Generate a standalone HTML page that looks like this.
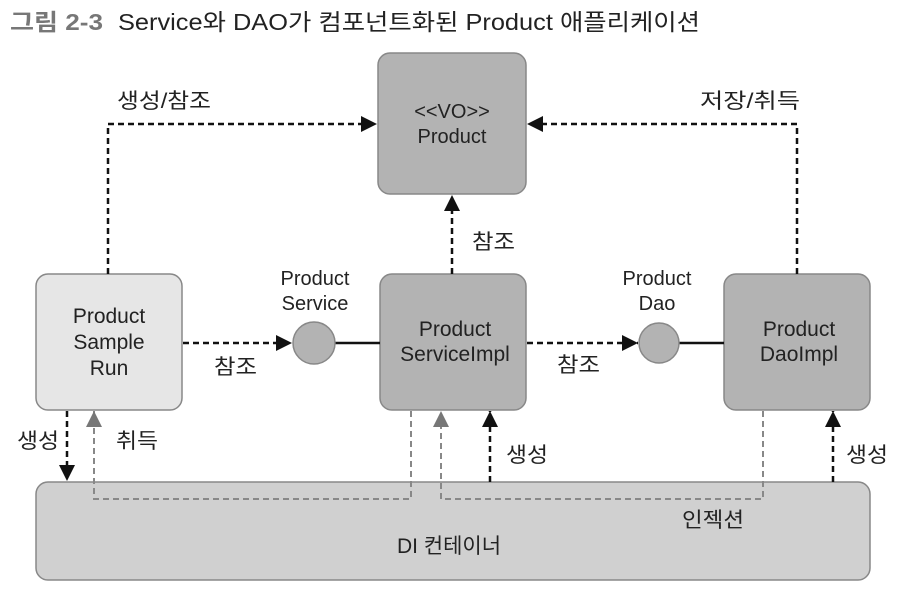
<!DOCTYPE html>
<html><head><meta charset="utf-8"><style>
body{margin:0;background:#fff;width:912px;height:602px;overflow:hidden}
svg text{font-family:"Liberation Sans","Noto Sans CJK KR",sans-serif;fill:#222}
</style></head><body>
<svg width="912" height="602" viewBox="0 0 912 602" xmlns="http://www.w3.org/2000/svg">
<defs>
<marker id="ag" markerWidth="18" markerHeight="16" refX="16" refY="8" orient="auto" markerUnits="userSpaceOnUse"><path d="M0,0 L16,8 L0,16 z" fill="#777"/></marker>
<marker id="ak" markerWidth="18" markerHeight="16" refX="16" refY="8" orient="auto" markerUnits="userSpaceOnUse"><path d="M0,0 L16,8 L0,16 z" fill="#111"/></marker>
</defs>
<text x="10" y="30" font-size="23" font-weight="bold" textLength="93" lengthAdjust="spacingAndGlyphs" style="fill:#777">그림 2-3</text>
<text x="118" y="30" font-size="23" textLength="582" lengthAdjust="spacingAndGlyphs">Service와 DAO가 컴포넌트화된 Product 애플리케이션</text>

<rect x="378" y="53" width="148" height="141" rx="12" fill="#b3b3b3" stroke="#888" stroke-width="1.5"/>
<text x="452" y="118" font-size="20" text-anchor="middle">&lt;&lt;VO&gt;&gt;</text>
<text x="452" y="143" font-size="20" text-anchor="middle">Product</text>

<rect x="36" y="482" width="834" height="98" rx="12" fill="#d0d0d0" stroke="#888" stroke-width="1.5"/>
<text x="449" y="553" font-size="21" text-anchor="middle">DI 컨테이너</text>

<rect x="36" y="274" width="146" height="136" rx="12" fill="#e6e6e6" stroke="#888" stroke-width="1.5"/>
<text x="109" y="323" font-size="21" text-anchor="middle">Product</text>
<text x="109" y="349" font-size="21" text-anchor="middle">Sample</text>
<text x="109" y="375" font-size="21" text-anchor="middle">Run</text>

<rect x="380" y="274" width="146" height="136" rx="12" fill="#b3b3b3" stroke="#888" stroke-width="1.5"/>
<text x="455" y="336" font-size="21" text-anchor="middle">Product</text>
<text x="455" y="361" font-size="21" text-anchor="middle">ServiceImpl</text>

<rect x="724" y="274" width="146" height="136" rx="12" fill="#b3b3b3" stroke="#888" stroke-width="1.5"/>
<text x="799" y="336" font-size="21" text-anchor="middle">Product</text>
<text x="799" y="361" font-size="21" text-anchor="middle">DaoImpl</text>

<line x1="335" y1="343" x2="380" y2="343" stroke="#111" stroke-width="2.5"/>
<circle cx="314" cy="343" r="21" fill="#b3b3b3" stroke="#888" stroke-width="1.5"/>
<text x="315" y="285" font-size="20" text-anchor="middle">Product</text>
<text x="315" y="310" font-size="20" text-anchor="middle">Service</text>

<line x1="679" y1="343" x2="724" y2="343" stroke="#111" stroke-width="2.5"/>
<circle cx="659" cy="343" r="20" fill="#b3b3b3" stroke="#888" stroke-width="1.5"/>
<text x="657" y="285" font-size="20" text-anchor="middle">Product</text>
<text x="657" y="310" font-size="20" text-anchor="middle">Dao</text>

<g fill="none" stroke="#111" stroke-width="2.5" stroke-dasharray="6,4">
<line x1="183" y1="343" x2="292" y2="343" marker-end="url(#ak)"/>
<line x1="527" y1="343" x2="638" y2="343" marker-end="url(#ak)"/>
<polyline points="108,274 108,124 377,124" marker-end="url(#ak)"/>
<polyline points="797,274 797,124 527,124" marker-end="url(#ak)"/>
<line x1="452" y1="274" x2="452" y2="195" marker-end="url(#ak)"/>
<line x1="67" y1="411" x2="67" y2="481" marker-end="url(#ak)"/>
<line x1="490" y1="482" x2="490" y2="411" marker-end="url(#ak)"/>
<line x1="833" y1="482" x2="833" y2="411" marker-end="url(#ak)"/>
</g>
<g fill="none" stroke="#888" stroke-width="2" stroke-dasharray="6,4">
<polyline points="411,411 411,499 94,499 94,411" marker-end="url(#ag)"/>
<polyline points="763,411 763,499 441,499 441,411" marker-end="url(#ag)"/>
</g>

<g font-size="21">
<text x="117" y="108" textLength="94" lengthAdjust="spacingAndGlyphs">생성/참조</text>
<text x="700" y="108" textLength="100" lengthAdjust="spacingAndGlyphs">저장/취득</text>
<text x="472" y="249" textLength="43" lengthAdjust="spacingAndGlyphs">참조</text>
<text x="214" y="374" textLength="43" lengthAdjust="spacingAndGlyphs">참조</text>
<text x="557" y="372" textLength="43" lengthAdjust="spacingAndGlyphs">참조</text>
<text x="17" y="448" textLength="42" lengthAdjust="spacingAndGlyphs">생성</text>
<text x="116" y="448" textLength="42" lengthAdjust="spacingAndGlyphs">취득</text>
<text x="506" y="462" textLength="42" lengthAdjust="spacingAndGlyphs">생성</text>
<text x="846" y="462" textLength="42" lengthAdjust="spacingAndGlyphs">생성</text>
<text x="682" y="527" textLength="62" lengthAdjust="spacingAndGlyphs">인젝션</text>
</g>
</svg>
</body></html>
